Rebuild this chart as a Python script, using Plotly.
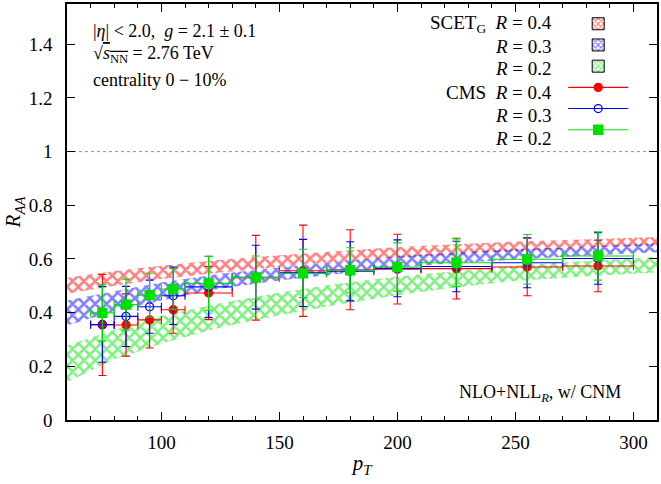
import plotly.graph_objects as go

# ---------------- data ----------------
pt_band = [60, 80, 100, 125, 150, 175, 200, 225, 250, 275, 310]
scet_r04_lo = [0.470, 0.500, 0.525, 0.550, 0.570, 0.590, 0.605, 0.618, 0.630, 0.640, 0.652]
scet_r04_hi = [0.530, 0.555, 0.575, 0.597, 0.614, 0.630, 0.645, 0.655, 0.665, 0.672, 0.682]
scet_r03_lo = [0.352, 0.405, 0.445, 0.490, 0.520, 0.545, 0.568, 0.585, 0.598, 0.610, 0.625]
scet_r03_hi = [0.445, 0.480, 0.512, 0.545, 0.568, 0.590, 0.610, 0.624, 0.636, 0.645, 0.658]
scet_r02_lo = [0.142, 0.225, 0.285, 0.345, 0.390, 0.430, 0.465, 0.495, 0.518, 0.533, 0.550]
scet_r02_hi = [0.278, 0.335, 0.388, 0.435, 0.475, 0.508, 0.535, 0.556, 0.575, 0.590, 0.607]

pt_cms = [75, 85, 95, 105, 120, 140, 160, 180, 200, 225, 255, 285]
pt_halfwidth = [5, 5, 5, 5, 10, 10, 10, 10, 10, 15, 15, 15]
cms_r04 = [0.354, 0.354, 0.373, 0.411, 0.473, 0.530, 0.556, 0.560, 0.562, 0.564, 0.570, 0.574]
cms_r04_err = [0.188, 0.116, 0.105, 0.088, 0.099, 0.158, 0.170, 0.149, 0.130, 0.113, 0.107, 0.096]
cms_r03 = [0.356, 0.386, 0.422, 0.463, 0.496, 0.532, 0.548, 0.554, 0.565, 0.572, 0.586, 0.602]
cms_r03_err = [0.141, 0.112, 0.099, 0.107, 0.114, 0.119, 0.125, 0.110, 0.106, 0.094, 0.093, 0.096]
cms_r02 = [0.399, 0.430, 0.465, 0.488, 0.509, 0.531, 0.546, 0.558, 0.570, 0.586, 0.599, 0.611]
cms_r02_err = [0.105, 0.095, 0.082, 0.076, 0.100, 0.080, 0.090, 0.084, 0.090, 0.089, 0.092, 0.090]

band_labels = ["SCET<sub>G</sub>  <i>R</i> = 0.4", "<i>R</i> = 0.3", "<i>R</i> = 0.2"]
cms_labels = ["CMS  <i>R</i> = 0.4", "<i>R</i> = 0.3", "<i>R</i> = 0.2"]

RED = "#ff0000"
BLUE = "#0000ff"
GREEN = "#00e000"
FONT = "Liberation Serif"

fig = go.Figure()

# ---------------- bands ----------------
for lo, hi, col in [(scet_r04_lo, scet_r04_hi, RED),
                    (scet_r03_lo, scet_r03_hi, BLUE),
                    (scet_r02_lo, scet_r02_hi, GREEN)]:
    fig.add_trace(go.Scatter(x=pt_band, y=lo, mode="lines", line=dict(width=0, color=col),
                             showlegend=False, hoverinfo="skip"))
    fig.add_trace(go.Scatter(x=pt_band, y=hi, mode="lines", line=dict(width=0, color=col),
                             fill="tonexty", fillcolor="rgba(0,0,0,0)",
                             fillpattern=dict(shape="x", fgcolor=col, bgcolor="rgba(255,255,255,0)",
                                              size=8, solidity=0.55),
                             showlegend=False, hoverinfo="skip"))

# ---------------- CMS data ----------------
for yv, ye, col, sym, msize in [(cms_r04, cms_r04_err, RED, "circle", 8),
                                (cms_r03, cms_r03_err, BLUE, "circle-open", 8),
                                (cms_r02, cms_r02_err, GREEN, "square", 9)]:
    fig.add_trace(go.Scatter(
        x=pt_cms, y=yv, mode="markers",
        marker=dict(symbol=sym, size=msize, color=col, line=dict(color=col, width=1.3)),
        error_y=dict(type="data", array=ye, color=col, thickness=1.1, width=4),
        error_x=dict(type="data", array=pt_halfwidth, color=col, thickness=1.1, width=4),
        showlegend=False))

# ---------------- legend-only entries ----------------
for col in [RED, BLUE, GREEN]:
    fig.add_trace(go.Bar(x=[None], y=[None], name=" ",
                         marker=dict(color="white", line=dict(color="black", width=1),
                                     pattern=dict(shape="x", fgcolor=col, bgcolor="white",
                                                  size=5, solidity=0.5))))
for col, sym, msize in [(RED, "circle", 8), (BLUE, "circle-open", 8), (GREEN, "square", 9)]:
    fig.add_trace(go.Scatter(x=[None], y=[None], mode="lines+markers", name=" ",
                             line=dict(color=col, width=1.1),
                             marker=dict(symbol=sym, size=msize, color=col,
                                         line=dict(color=col, width=1.3))))

# reference line at R_AA = 1
fig.add_shape(type="line", xref="paper", x0=0, x1=1, yref="y", y0=1, y1=1,
              line=dict(color="#909090", width=1, dash="dot"), layer="below")

# ---------------- annotations ----------------
ann_font = dict(family=FONT, size=18, color="black")
notes = [
    ("|<i>η</i>| < 2.0,  <i>g</i> = 2.1 ± 0.1", 0.0405, 0.935),
    ("√<span style='text-decoration:overline'><i>s</i><sub>NN</sub></span> = 2.76 TeV", 0.0405, 0.878),
    ("centrality 0 − 10%", 0.0405, 0.818),
]
for txt, xp, yp in notes:
    fig.add_annotation(text=txt, xref="paper", yref="paper", x=xp, y=yp,
                       xanchor="left", yanchor="middle", showarrow=False, font=ann_font)
fig.add_annotation(text="NLO+NLL<sub><i>R</i></sub>, w/ CNM", xref="paper", yref="paper",
                   x=0.9426, y=0.0646, xanchor="right", yanchor="middle", showarrow=False,
                   font=ann_font)

leg_rows = [0.952, 0.897, 0.844, 0.787, 0.732, 0.677]
for txt, yp in zip(band_labels + cms_labels, leg_rows):
    fig.add_annotation(text=txt, xref="paper", yref="paper", x=0.826, y=yp,
                       xanchor="right", yanchor="middle", showarrow=False,
                       font=dict(family=FONT, size=19, color="black"))

axis_common = dict(showline=True, linecolor="black", linewidth=1.5, mirror="allticks",
                   ticks="inside", tickcolor="black", showgrid=False, zeroline=False,
                   tickfont=dict(family=FONT, size=19, color="black"))

fig.update_xaxes(range=[60, 310], dtick=50, tick0=0, ticklen=8, tickwidth=1,
                 minor=dict(dtick=10, tick0=0, ticks="inside", ticklen=4, tickcolor="black", showgrid=False),
                 title=dict(text="<i>p</i><sub><i>T</i></sub>", font=dict(family=FONT, size=21), standoff=4),
                 ticklabelstandoff=4, **axis_common)
fig.update_yaxes(range=[0, 1.55], dtick=0.2, tick0=0, ticklen=8, tickwidth=1,
                 title=dict(text="<i>R</i><sub><i>AA</i></sub>", font=dict(family=FONT, size=21), standoff=2),
                 ticklabelstandoff=9, **axis_common)

fig.update_layout(
    width=661, height=484,
    margin=dict(l=67, r=2, t=2, b=64),
    paper_bgcolor="white", plot_bgcolor="white",
    showlegend=True,
    legend=dict(x=0.841, y=0.99, xanchor="left", yanchor="top", bgcolor="rgba(0,0,0,0)",
                font=dict(family=FONT, size=14), tracegroupgap=0, traceorder="normal",
                itemwidth=60),
    font=dict(family=FONT, color="black"),
)

fig.write_html("out.html")
